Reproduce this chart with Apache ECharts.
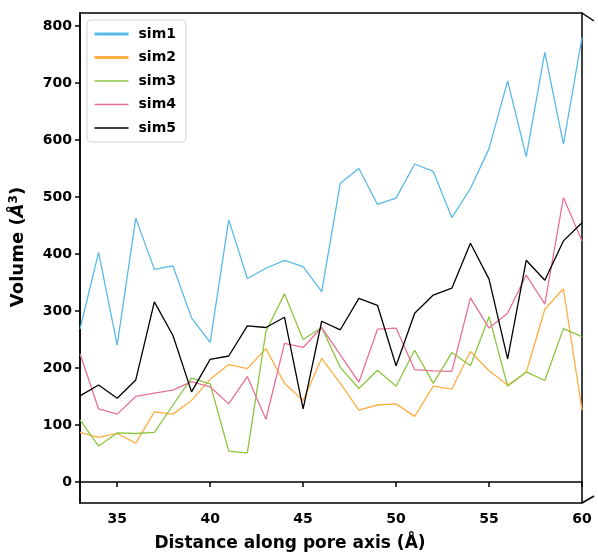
<!DOCTYPE html>
<html>
<head>
<meta charset="utf-8">
<script src="https://cdn.jsdelivr.net/npm/echarts@6/dist/echarts.min.js"></script>
<style>
  html, body { margin: 0; padding: 0; background: #fff; }
  #chart { width: 598px; height: 559px; }
</style>
</head>
<body>
<div id="chart"></div>
<script>
// distance along pore axis (Å)
const distance = [33, 34, 35, 36, 37, 38, 39, 40, 41, 42, 43, 44, 45, 46,
                  47, 48, 49, 50, 51, 52, 53, 54, 55, 56, 57, 58, 59, 60];

const sim1 = [268, 403, 240, 463, 373, 379, 288, 245, 460, 357, 375, 389, 378, 334,
              524, 550, 487, 498, 558, 545, 464, 515, 585, 704, 571, 754, 593, 780];
const sim2 = [87, 78, 85, 68, 123, 119, 143, 180, 206, 199, 234, 173, 143, 217,
              173, 126, 135, 137, 115, 168, 163, 229, 195, 170, 192, 303, 339, 126];
const sim3 = [109, 63, 86, 85, 87, 135, 182, 172, 54, 51, 264, 330, 250, 271,
              201, 164, 196, 168, 231, 173, 227, 204, 290, 168, 193, 178, 269, 255];
const sim4 = [225, 128, 119, 150, 156, 161, 176, 167, 137, 185, 110, 243, 236, 271,
              223, 175, 268, 270, 197, 195, 194, 323, 270, 296, 363, 312, 499, 423];
const sim5 = [151, 170, 147, 179, 316, 257, 158, 215, 221, 274, 271, 289, 128, 282,
              267, 322, 310, 204, 296, 328, 340, 419, 356, 216, 389, 354, 423, 455];

const xTicks = [35, 40, 45, 50, 55, 60];
const yTicks = [0, 100, 200, 300, 400, 500, 600, 700, 800];

const names = ['sim1', 'sim2', 'sim3', 'sim4', 'sim5'];
const values = [sim1, sim2, sim3, sim4, sim5];
const colors = ['#5ab9ea', '#ffae42', '#8cc63f', '#e8719a', '#000000'];
const legendWidths = [3, 3, 1.5, 1.5, 1.5];

const FONT = 'DejaVu Sans';
const TICK_T = { fontFamily: FONT, fontWeight: 'bold', fontSize: 14, color: '#000' };

const chart = echarts.init(document.getElementById('chart'));

chart.setOption({
  animation: false,
  grid: { left: 79, right: 16, top: 13, bottom: 56, show: true, borderColor: '#000', borderWidth: 1.5 },
  legend: {
    orient: 'vertical', left: 87, top: 20,
    padding: [7, 10, 7, 6],
    itemWidth: 34, itemHeight: 14, itemGap: 9.5,
    backgroundColor: 'rgba(255,255,255,0.8)',
    borderColor: '#d4d4d4', borderWidth: 1, borderRadius: 4,
    itemStyle: { opacity: 0 },
    textStyle: { fontFamily: FONT, fontWeight: 'bold', fontSize: 14, color: '#000', padding: [0, 0, 0, 5] },
    data: names.map((n, i) => ({ name: n, itemStyle: { opacity: 0 }, lineStyle: { width: legendWidths[i] } }))
  },
  xAxis: {
    type: 'value', min: 33, max: 60,
    name: 'Distance along pore axis (Å)', nameLocation: 'middle', nameGap: 32,
    nameTextStyle: { fontFamily: FONT, fontWeight: 'bold', fontSize: 17, color: '#000', padding: [0, 82, 0, 0] },
    axisLine: { show: true, lineStyle: { color: '#000', width: 1.5 } },
    axisTick: { show: true, length: 5, lineStyle: { color: '#000', width: 1.5 }, customValues: xTicks },
    axisLabel: { ...TICK_T, margin: 9, customValues: xTicks },
    splitLine: { show: false }
  },
  yAxis: {
    type: 'value', min: -37, max: 823,
    name: '{n|Volume (}{i|Å}{s|3}{n|)}', nameLocation: 'middle', nameGap: 52,
    nameTextStyle: {
      padding: [0, 0, 0, 22],
      rich: {
        n: { fontFamily: FONT, fontWeight: 'bold', fontSize: 18, color: '#000' },
        i: { fontFamily: FONT, fontWeight: 'bold', fontStyle: 'italic', fontSize: 18, color: '#000' },
        s: { fontFamily: FONT, fontWeight: 'bold', fontSize: 12, color: '#000', verticalAlign: 'top', padding: [0, 0, 8, 0] }
      }
    },
    axisLine: { show: true, lineStyle: { color: '#000', width: 1.5 } },
    axisTick: { show: true, length: 5, lineStyle: { color: '#000', width: 1.5 }, customValues: yTicks },
    axisLabel: { ...TICK_T, margin: 8, customValues: yTicks },
    splitLine: { show: false }
  },
  graphic: [
    { type: 'line', shape: { x1: 582, y1: 13, x2: 594, y2: 21 }, style: { stroke: '#000', lineWidth: 1.5 } },
    { type: 'line', shape: { x1: 582, y1: 503, x2: 594, y2: 496 }, style: { stroke: '#000', lineWidth: 1.5 } }
  ],
  series: names.map((n, i) => ({
    name: n, type: 'line', symbol: 'none', showSymbol: false,
    data: distance.map((d, j) => [d, values[i][j]]),
    lineStyle: { color: colors[i], width: 1.3 },
    itemStyle: { color: colors[i] },
    z: 2 + i
  }))
});
</script>
</body>
</html>
